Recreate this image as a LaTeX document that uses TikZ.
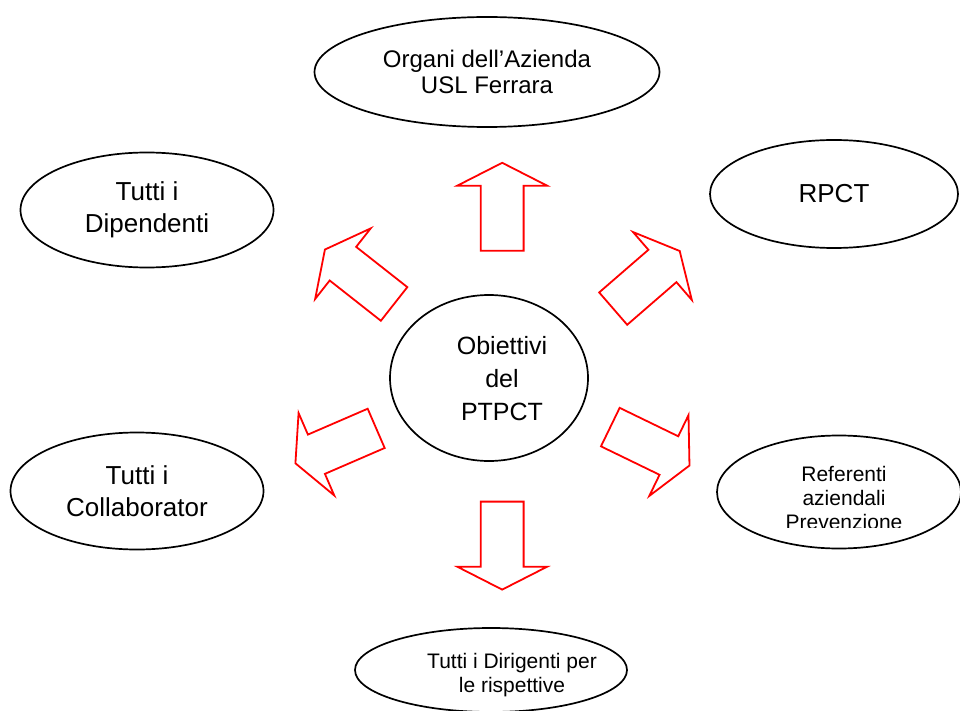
\documentclass[tikz,border=0pt]{standalone}
\usepackage{fontspec}
\setmainfont{Liberation Sans}
\usetikzlibrary{shapes.geometric,shapes.arrows}

\begin{document}
\begin{tikzpicture}
  [x=1pt,y=-1pt,
  bubble/.style={ellipse,draw=black,line width=1.7pt,inner sep=0pt,align=center},
  big text/.style={font=\fontsize{26}{32}\selectfont},
  small text/.style={font=\fontsize{21}{24}\selectfont},
  block arrow/.style={single arrow,draw=red,line width=1.8pt,inner xsep=0pt,inner ysep=20.5pt,
    minimum height=88pt,single arrow head extend=23.5pt,
    single arrow tip angle=126,anchor=tail}]
  \useasboundingbox (0,0) rectangle (960,711);
  \node [bubble,minimum width=345pt,minimum height=110pt,font=\fontsize{24}{26}\selectfont]
    (org) at (487,72) {Organi dell’Azienda\\USL Ferrara};
  \node [bubble,big text,minimum width=253pt,minimum height=115pt] (dip) at (147,210)
    {Tutti i\\Dipendenti};
  \node [bubble,big text,minimum width=248pt,minimum height=108pt] (rpct) at (834,194) {RPCT};
  \node [bubble,minimum width=198pt,minimum height=166pt] (ptpct) at (489,378) {};
  \node [align=center,font=\fontsize{25}{33}\selectfont] (ptpcttext) at (502,379)
    {Obiettivi\\del\\PTPCT};
  \node [bubble,big text,minimum width=253pt,minimum height=117pt] (col) at (137,491)
    {Tutti i\\Collaborator};
  \node [bubble,minimum width=244pt,minimum height=113pt] (ref) at (839,492) {};
  \begin{scope}
    \clip (720,440) rectangle (960,527);
    \node [small text,align=center] (reftext) at (844,498) {Referenti\\aziendali\\Prevenzione};
  \end{scope}
  \node [bubble,minimum width=272pt,minimum height=84pt] (dir) at (491,670) {};
  \node [small text,align=center] (dirtext) at (512,675) {Tutti i Dirigenti per\\le rispettive};

  \node [block arrow,rotate=90] (toorg) at (502.2,251.7) {};
  \node [block arrow,rotate=-90] (todir) at (502.2,500.7) {};
  \node [block arrow,rotate=141.8] (todip) at (394.8,304.5) {};
  \node [block arrow,rotate=40.9] (torpct) at (612.5,309.2) {};
  \node [block arrow,rotate=203.4] (tocol) at (377,428) {};
  \node [block arrow,rotate=-25.9] (toref) at (609.5,426.7) {};
\end{tikzpicture}
\end{document}
